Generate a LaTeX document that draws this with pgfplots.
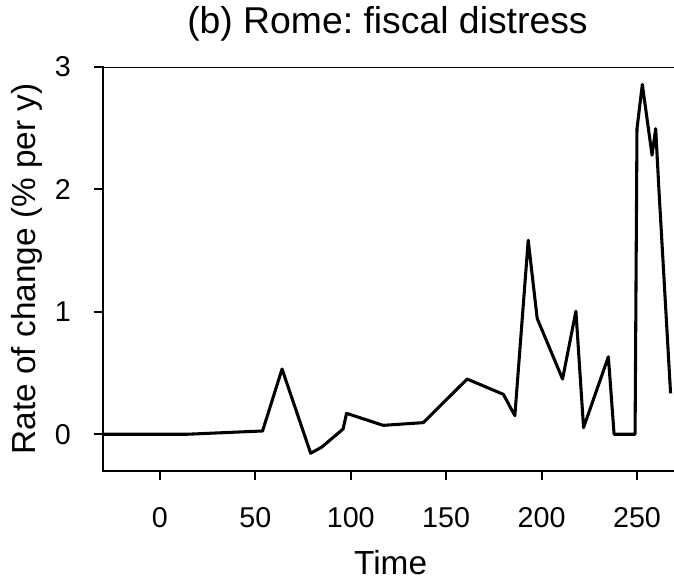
\documentclass[border=0pt]{standalone}
\usepackage{fontspec}
\setmainfont{Liberation Sans}
\usepackage{pgfplots}
\pgfplotsset{compat=1.18}
\frenchspacing
\begin{document}
\begin{tikzpicture}
\begin{axis}[
  scale only axis,
  width=428.5pt, height=303pt,
  xmin=-30, xmax=269.4, ymin=-0.3, ymax=3,
  axis lines*=left,
  axis line style={line width=1.6pt, line cap=rect},
  tick align=outside,
  major tick length=6.75pt,
  every tick/.style={black, line width=1.6pt},
  xtick={0,50,100,150,200,250},
  ytick={0,1,2,3},
  /pgf/number format/assume math mode=true,
  xticklabel={\pgfmathprintnumber{\tick}},
  yticklabel={\pgfmathprintnumber{\tick}},
  xticklabel style={font=\fontsize{21.5pt}{24pt}\selectfont, anchor=base, inner sep=0pt, yshift=-35.5pt},
  yticklabel style={font=\fontsize{21.5pt}{24pt}\selectfont, anchor=east, inner sep=0pt, xshift=-17pt},
  title={(b) Rome: fiscal distress},
  title style={font=\fontsize{28pt}{32pt}\selectfont, at={(axis description cs:0.4985,1.0626)}, anchor=base, inner sep=0pt},
  xlabel={Time},
  xlabel style={font=\fontsize{25pt}{28pt}\selectfont, at={(axis description cs:0.504,-0.2557)}, anchor=base, inner sep=0pt},
  ylabel={Rate of change (\% per y)},
  ylabel style={font=\fontsize{25pt}{28pt}\selectfont, at={(axis description cs:-0.133,0.5)}, anchor=center, inner sep=0pt},
  clip=true,
]
\addplot[black, line width=2.3pt, line join=round] coordinates {
(-30,0) (14,0) (53.8,0.027) (64,0.533) (79,-0.155) (84.7,-0.106) (96,0.043)
(97.8,0.171) (117,0.073) (138,0.095) (161,0.451) (180,0.326) (186,0.152)
(193,1.585) (197.7,0.946) (211,0.451) (218,1.006) (222,0.054) (235,0.633)
(238,0) (249,0) (250,2.496) (252.8,2.857) (257.9,2.28) (259.8,2.496)
(261.5,1.998) (267.6,0.334)
};
\draw[line width=1.6pt] (rel axis cs:0,1) -- (rel axis cs:1,1);
\end{axis}
\pgfresetboundingbox
\path ([xshift=-77pt,yshift=-85.5pt]current axis.south west) rectangle ([yshift=50.25pt]current axis.north east);
\end{tikzpicture}
\end{document}
